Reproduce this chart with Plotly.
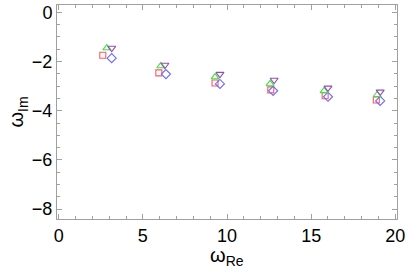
import plotly.graph_objects as go

sq_x = [2.62, 5.95, 9.29, 12.60, 15.83, 18.87]
sq_y = [-1.74, -2.46, -2.87, -3.15, -3.39, -3.56]
di_x = [3.15, 6.37, 9.58, 12.74, 16.00, 19.10]
di_y = [-1.86, -2.51, -2.91, -3.19, -3.43, -3.60]
tu_x = [2.86, 6.07, 9.29, 12.56, 15.77, 18.93]
tu_y = [-1.45, -2.18, -2.63, -2.91, -3.19, -3.35]
td_x = [3.15, 6.31, 9.58, 12.80, 16.00, 19.10]
td_y = [-1.45, -2.14, -2.51, -2.75, -3.07, -3.23]

fig = go.Figure()

def add(x, y, sym, col, size):
    fig.add_trace(go.Scatter(x=x, y=y, mode="markers",
                             marker=dict(symbol=sym, size=size, color=col,
                                         line=dict(color=col, width=1.1))))

add(sq_x, sq_y, "square-open", "#ff5a5a", 6)
add(di_x, di_y, "diamond-open", "#6a6aff", 7)
add(tu_x, tu_y, "triangle-up-open", "#40e040", 7)
add(td_x, td_y, "triangle-down-open", "#9050b0", 7)

axis_common = dict(showgrid=False, zeroline=False, showline=True, linecolor="#a0a0a0",
                   linewidth=1, mirror="allticks", ticks="inside", ticklen=5, automargin=False,
                   tickcolor="#a0a0a0", tickfont=dict(family="Liberation Sans", size=18, color="black"))

fig.update_xaxes(range=[-0.1, 20.1], tickvals=[0, 5, 10, 15, 20], **axis_common,
                 minor=dict(ticks="inside", ticklen=3, dtick=1, tickcolor="#a0a0a0", showgrid=False))
fig.update_yaxes(range=[-8.4, 0.3], tickvals=[0, -2, -4, -6, -8], ticktext=["0", "−2", "−4", "−6", "−8"],
                 **axis_common,
                 minor=dict(ticks="inside", ticklen=3, dtick=0.5, tickcolor="#a0a0a0", showgrid=False),
                 title=dict(text="ω<sub>Im</sub>", font=dict(family="Liberation Sans", size=20, color="black"), standoff=2))

fig.add_annotation(text="ω<sub>Re</sub>", xref="paper", yref="paper", x=0.5, y=-0.175,
                   xanchor="center", yanchor="middle", showarrow=False,
                   font=dict(family="Liberation Sans", size=20, color="black"))

fig.update_layout(width=413, height=278, margin=dict(l=57, r=16, t=5, b=59),
                  plot_bgcolor="white", paper_bgcolor="white", showlegend=False)

fig.write_html("out.html", config={"displayModeBar": False},
               post_script="document.body.style.margin='0';document.body.style.padding='0';")
